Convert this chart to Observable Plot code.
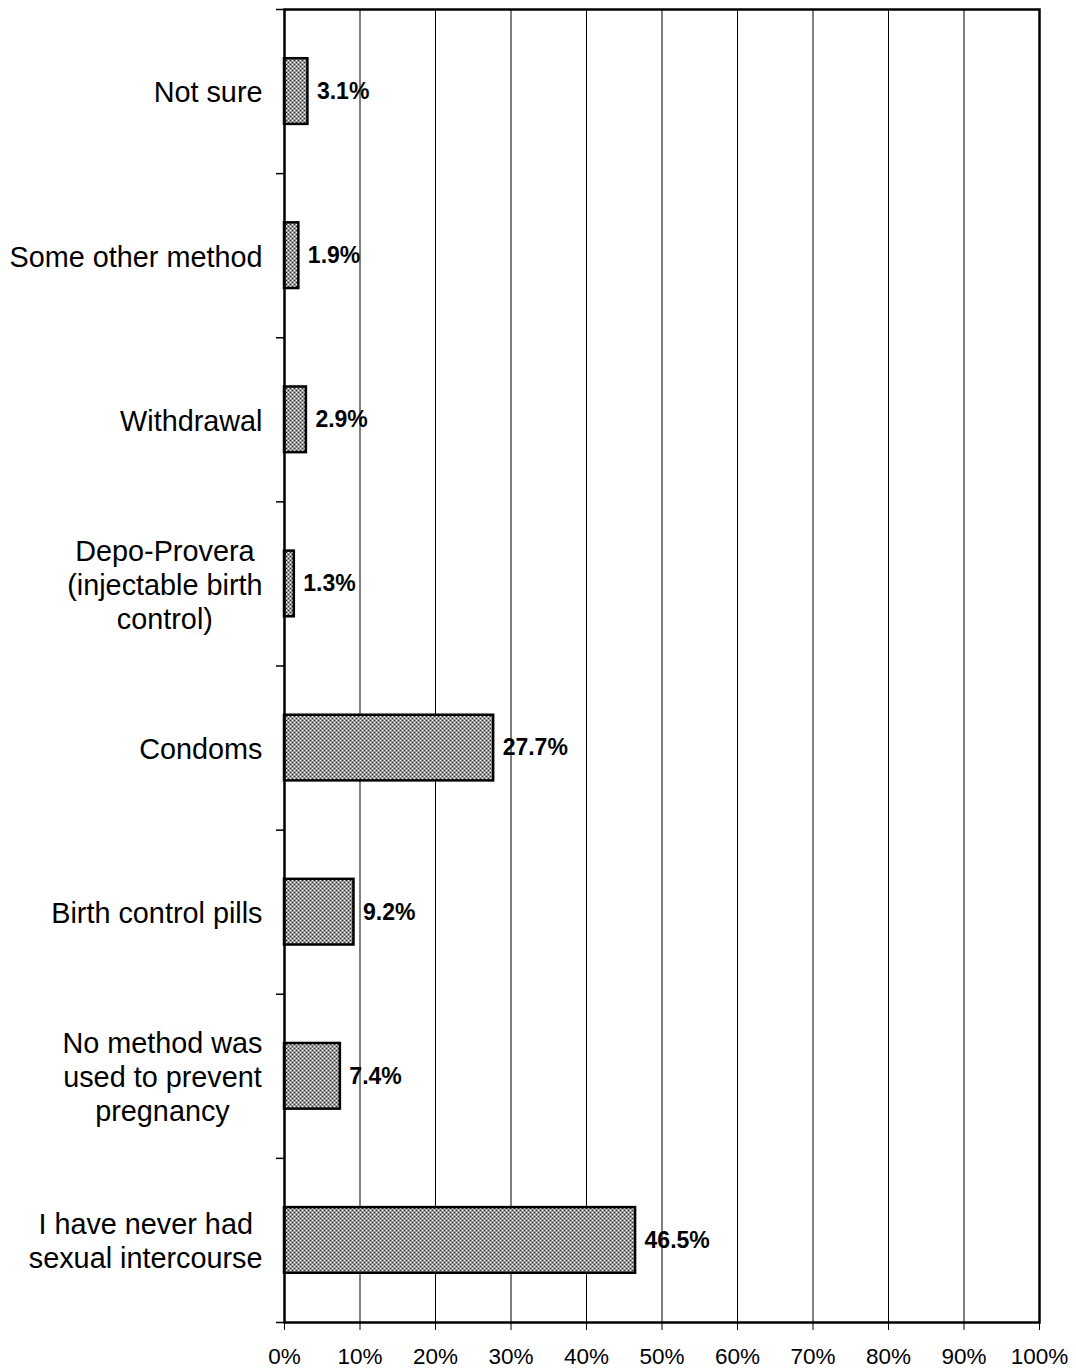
<!DOCTYPE html>
<html>
<head>
<meta charset="utf-8">
<script src="https://cdn.jsdelivr.net/npm/d3@7"></script>
<script src="https://cdn.jsdelivr.net/npm/@observablehq/plot@0.6"></script>
<style>
  html, body { margin: 0; padding: 0; background: #fff; }
  #chart { width: 1076px; height: 1368px; }
  svg { font-family: "Liberation Sans", Arial, sans-serif; color: #000; }
</style>
</head>
<body>
<div id="chart"></div>
<script>
// Categories listed top to bottom
const categories = [
  "Not sure",
  "Some other method",
  "Withdrawal",
  "Depo-Provera\n(injectable birth\ncontrol)",
  "Condoms",
  "Birth control pills",
  "No method was\nused to prevent\npregnancy",
  "I have never had\nsexual intercourse"
];
const values = [3.1, 1.9, 2.9, 1.3, 27.7, 9.2, 7.4, 46.5];
const xTicks = [0, 10, 20, 30, 40, 50, 60, 70, 80, 90, 100];
const gridValues = [10, 20, 30, 40, 50, 60, 70, 80, 90];

const n = categories.length;
const data = categories.map((c, i) => ({category: c, value: values[i], i}));

const W = 1076, H = 1368;
const mL = 284, mR = 37, mT = 9, mB = 46;
const step = (H - mT - mB) / n;
const barInset = step * 0.3;

const plot = Plot.plot({
  width: W,
  height: H,
  marginLeft: mL,
  marginRight: mR,
  marginTop: mT,
  marginBottom: mB,
  style: {fontFamily: '"Liberation Sans", Arial, sans-serif', color: "#000", background: "#fff"},
  x: {domain: [0, 100], label: null},
  y: {domain: [0, n], reverse: true, label: null},
  marks: [
    Plot.ruleX(gridValues, {stroke: "#000", strokeWidth: 1}),
    Plot.rectX(data, {
      x1: 0, x2: "value",
      y1: d => d.i, y2: d => d.i + 1,
      insetTop: barInset, insetBottom: barInset,
      fill: "url(#hatch)", stroke: "#000", strokeWidth: 2.5
    }),
    Plot.frame({stroke: "#000", strokeWidth: 2.5}),
    Plot.axisY({ticks: d3.range(n + 1), tickSize: 8, tickFormat: () => "", strokeWidth: 1.5, stroke: "#000", label: null}),
    Plot.axisX({ticks: xTicks, tickSize: 8, tickPadding: 18, tickFormat: d => d + "%", fontSize: 22.5, stroke: "#000", fill: "#000", strokeWidth: 1, label: null}),
    Plot.text(data, {
      x: "value", y: d => d.i + 0.5,
      text: d => d.value.toFixed(1) + "%",
      dx: 9, textAnchor: "start", fontWeight: "bold", fontSize: 23, fill: "#000"
    }),
    Plot.text(data, {
      x: 0, y: d => d.i + 0.5,
      text: "category",
      textAnchor: "middle", fontSize: 28.8, lineHeight: 1.18, fill: "#000",
      className: "catlabels"
    })
  ]
});

// pattern definition for bar fill
const ns = "http://www.w3.org/2000/svg";
const defs = document.createElementNS(ns, "defs");
defs.innerHTML = `
  <pattern id="hatch" width="4" height="4" patternUnits="userSpaceOnUse">
    <rect width="4" height="4" fill="#9a9a9a"/>
    <rect x="0" y="0" width="1" height="1" fill="#ffffff"/>
    <rect x="2" y="2" width="1" height="1" fill="#ffffff"/>
    <rect x="2" y="0" width="1" height="1" fill="#2e2e2e"/>
    <rect x="0" y="2" width="1" height="1" fill="#2e2e2e"/>
  </pattern>`;
plot.insertBefore(defs, plot.firstChild);

document.getElementById("chart").appendChild(plot);

// Center multi-line category labels as blocks whose right edge sits left of the axis
const x0 = mL;
plot.querySelectorAll("g.catlabels text, g[class*='catlabels'] text").forEach(t => {
  const bb = t.getBBox();
  const tr = t.getAttribute("transform") || "";
  const m = /translate\(([-\d.e]+)[ ,]+([-\d.e]+)\)/.exec(tr);
  const tx = m ? +m[1] : 0;
  const right = tx + bb.x + bb.width;
  const delta = (x0 - 22) - right;
  t.setAttribute("transform", `translate(${delta},0) ` + tr);
});
</script>
</body>
</html>
